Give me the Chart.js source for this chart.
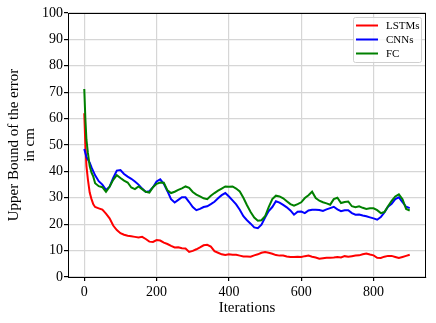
<!DOCTYPE html>
<html>
<head>
<meta charset="utf-8">
<script src="https://cdn.jsdelivr.net/npm/chart.js@4"></script>
<style>
  html, body { margin: 0; padding: 0; background: #fff; }
  #wrap { width: 436px; height: 323px; }
</style>
</head>
<body>
<div id="wrap"><canvas id="errChart" width="436" height="323"></canvas></div>
<script>
const iterations = [0, 3, 6, 10, 15, 20, 25, 30, 40, 50, 60, 70, 80, 90, 100, 110, 120, 130, 140, 150,
  160, 170, 180, 190, 200, 210, 220, 230, 240, 250, 260, 270, 280, 290, 300, 310, 320, 330, 340, 350,
  360, 370, 380, 390, 400, 410, 420, 430, 440, 450, 460, 470, 480, 490, 500, 510, 520, 530, 540, 550,
  560, 570, 580, 590, 600, 610, 620, 630, 640, 650, 660, 670, 680, 690, 700, 710, 720, 730, 740, 750,
  760, 770, 780, 790, 800, 810, 820, 830, 840, 850, 860, 870, 880, 890, 900]

const lstmErr = [62, 50, 42, 37, 32, 29.5, 27.5, 26.5, 26, 25.5, 24, 22.2, 19.5, 17.8, 16.6, 16, 15.6, 15.4, 15.2, 15,
  15.2, 14.4, 13.4, 13.3, 14, 13.8, 13, 12.5, 11.8, 11.2, 11.3, 10.9, 10.8, 9.5, 9.9, 10.5, 11.2, 12, 12.2, 11.5,
  9.8, 9.2, 8.6, 8.3, 8.6, 8.4, 8.4, 8.1, 7.8, 7.8, 7.7, 8.2, 8.6, 9.2, 9.5, 9.2, 8.8, 8.3, 8.1, 8.1,
  7.8, 7.6, 7.6, 7.7, 7.6, 7.9, 8.1, 7.7, 7.4, 6.9, 7.1, 7.3, 7.3, 7.4, 7.6, 7.4, 7.9, 7.7, 7.9, 8.1,
  8.2, 8.6, 8.9, 8.5, 8.2, 7.3, 7.2, 7.7, 8.0, 8.0, 7.6, 7.2, 7.6, 8.0, 8.4]

const cnnErr = [48.5, 47, 45.5, 44.5, 43.3, 41.5, 40, 38.5, 36.3, 35, 33, 34.2, 37.5, 40.3, 40.5, 39, 38, 37.2, 36.2, 35,
  33.5, 32.2, 32.5, 34, 36.2, 37, 35.3, 32.5, 29.5, 28.2, 29.2, 30.2, 30.2, 28.4, 26.5, 25.3, 25.8, 26.5, 26.8, 27.6,
  28.5, 29.8, 31, 31.8, 30.5, 29, 27.5, 25.5, 23, 21.5, 20.2, 18.8, 18.5, 19.8, 22.5, 25, 26.5, 28.7, 28.2, 27.3,
  26.4, 25.2, 23.6, 24.7, 24.8, 24.2, 25.2, 25.5, 25.5, 25.4, 25, 25.6, 26.1, 26.6, 25.6, 24.9, 25.3, 25.3, 24.2, 23.6,
  23.7, 23.3, 23, 22.6, 22.2, 21.7, 22.7, 24.5, 26.6, 27.7, 29.5, 30.2, 28.4, 26.6, 26.1]

const fcErr = [71.2, 60, 52, 47, 42, 39.5, 38, 35.5, 34.4, 34, 32.3, 34.2, 36.8, 38.6, 37.5, 36.5, 35.8, 33.9, 33.3, 34.3,
  33.3, 32.3, 32, 34, 35.3, 35.8, 35.7, 32.8, 31.8, 32.3, 33, 33.6, 34.3, 33.8, 32.2, 31.2, 30.5, 29.8, 29.5, 30.8,
  31.8, 32.7, 33.5, 34.3, 34.2, 34.3, 33.5, 32.4, 30, 27.2, 24.6, 22.5, 21.3, 21.5, 23, 26.5, 29.5, 30.8, 30.5, 29.8,
  28.7, 27.6, 27, 27.6, 28.3, 29.9, 31, 32.3, 29.9, 28.9, 28.3, 27.9, 27.4, 29.5, 30, 28, 28.4, 28.6, 26.8, 26.4,
  26.8, 26.2, 25.8, 26, 26, 25.3, 24.2, 24.6, 26.8, 28.8, 30.5, 31.3, 29.5, 25.8, 25.2]

const seriesNames = ['LSTMs', 'CNNs', 'FC']
const xTicks = [0, 200, 400, 600, 800]
const yTicks = [0, 10, 20, 30, 40, 50, 60, 70, 80, 90, 100]

const FONT = 'Liberation Serif'

function toPoints(vals) {
    return iterations.map((it, i) => ({ x: it, y: vals[i] }))
}

// full box around plot + legend in upper right, like matplotlib
const frameAndLegend = {
    id: 'frameAndLegend',
    afterDatasetsDraw(chart) {
        const c = chart.ctx
        const a = chart.chartArea
        c.save()
        c.strokeStyle = '#000'
        c.lineWidth = 1
        c.strokeRect(a.left + 0.5, a.top + 0.5, a.right - a.left - 1, a.bottom - a.top)

        const bx = a.right - 73, by = a.top + 4, bw = 68, bh = 45
        c.fillStyle = 'rgba(255,255,255,0.8)'
        c.strokeStyle = '#d0d0d0'
        c.beginPath()
        c.roundRect(bx + 0.5, by + 0.5, bw, bh, 2)
        c.fill()
        c.stroke()

        c.font = '11px "' + FONT + '"'
        c.textBaseline = 'middle'
        c.textAlign = 'left'
        chart.data.datasets.forEach((ds, i) => {
            const yy = by + 8.5 + i * 14
            c.strokeStyle = ds.borderColor
            c.lineWidth = 2
            c.beginPath()
            c.moveTo(bx + 3, yy)
            c.lineTo(bx + 25, yy)
            c.stroke()
            c.fillStyle = '#000'
            c.fillText(ds.label, bx + 33, yy + 0.5)
        })
        c.restore()
    }
}

const ctx = document.getElementById('errChart')
const errChart = new Chart(ctx, {
    type: 'line',
    data: {
        datasets: [{
            label: seriesNames[0],
            data: toPoints(lstmErr),
            borderColor: '#ff0000',
            order: 3
        },
        {
            label: seriesNames[1],
            data: toPoints(cnnErr),
            borderColor: '#0000ff',
            order: 2
        },
        {
            label: seriesNames[2],
            data: toPoints(fcErr),
            borderColor: '#008000',
            order: 1
        }]
    },
    options: {
        responsive: false,
        animation: false,
        devicePixelRatio: 1,
        layout: { padding: { top: 13, right: 10, left: 0, bottom: 0 } },
        elements: {
            point: { radius: 0 },
            line: { borderWidth: 2, tension: 0, fill: false }
        },
        plugins: {
            legend: { display: false },
            tooltip: { enabled: false }
        },
        scales: {
            x: {
                type: 'linear',
                min: -45,
                max: 945,
                afterBuildTicks: (s) => { s.ticks = xTicks.map(v => ({ value: v })) },
                afterFit: (s) => { s.height = 46 },
                grid: { color: '#d6d6d6', lineWidth: 1.2, tickColor: '#000', tickLength: 4 },
                border: { color: '#000', width: 1 },
                ticks: { color: '#000', font: { family: FONT, size: 14 }, padding: 3, maxRotation: 0 },
                title: {
                    display: true,
                    text: 'Iterations',
                    color: '#000',
                    font: { family: FONT, size: 15 },
                    padding: { top: 0, bottom: 6 }
                }
            },
            y: {
                min: 0,
                max: 100,
                afterBuildTicks: (s) => { s.ticks = yTicks.map(v => ({ value: v })) },
                afterFit: (s) => { s.width = 68 },
                grid: { color: '#d6d6d6', lineWidth: 1.2, tickColor: '#000', tickLength: 4 },
                border: { color: '#000', width: 1 },
                ticks: { color: '#000', font: { family: FONT, size: 14 }, padding: 1 },
                title: {
                    display: true,
                    text: ['Upper Bound of the error', 'in cm'],
                    color: '#000',
                    font: { family: FONT, size: 15, lineHeight: 1.07 },
                    padding: { top: 6, bottom: 0 }
                }
            }
        }
    },
    plugins: [frameAndLegend]
})
</script>
</body>
</html>
